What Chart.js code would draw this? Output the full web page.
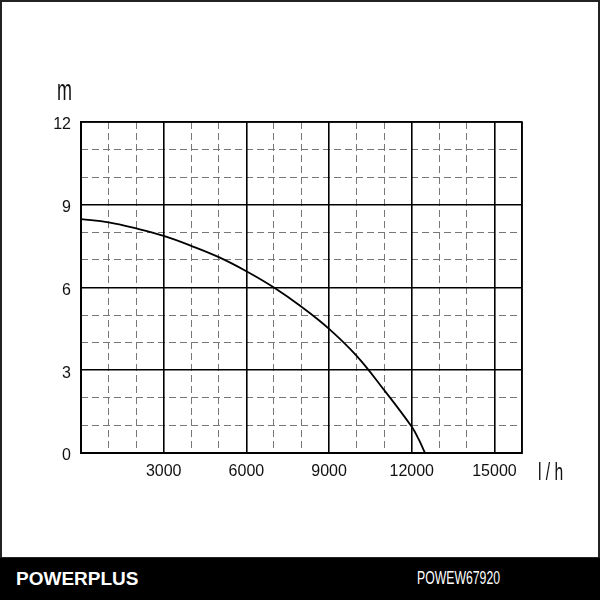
<!DOCTYPE html>
<html>
<head>
<meta charset="utf-8">
<script src="https://cdn.jsdelivr.net/npm/chart.js@4.4.0/dist/chart.umd.min.js"></script>
<style>
  html, body { margin: 0; padding: 0; background: #fff; }
  #wrap { position: relative; width: 600px; height: 600px; overflow: hidden; background: #fff; }
  #frame { position: absolute; left: 0; top: 0; width: 596px; height: 555px; border: 2px solid #222; }
  #c { position: absolute; left: 0; top: 0; }
  .unit { position: absolute; font-family: "Liberation Sans", Arial, sans-serif; color: #111; line-height: 1; transform-origin: left top; white-space: pre; }
  #band { position: absolute; left: 0; top: 558px; width: 600px; height: 42px; background: #000; }
  #brand { position: absolute; left: 16px; top: 568px; font: bold 19px "Liberation Sans", Arial, sans-serif; color: #fff; }
  #model { position: absolute; left: 417px; top: 568px; font: 18px "Liberation Sans", Arial, sans-serif; color: #fff; transform-origin: left center; transform: scaleX(0.68); }
</style>
</head>
<body>
<div id="wrap">
  <div id="frame"></div>
  <canvas id="c" width="600" height="558"></canvas>
  <div class="unit" id="m" style="left:57px;top:75px;font-size:30px;transform:scaleX(0.6);">m</div>
  <div class="unit" id="lh" style="left:538px;top:461px;font-size:23px;transform:scaleX(0.68);">l / h</div>
  <div id="band"></div>
  <div id="brand">POWERPLUS</div>
  <div id="model">POWEW67920</div>
</div>
<script>
// Data
const flow = [0, 1000, 2000, 3000, 4000, 5000, 6000, 7000, 8000, 9000, 10000, 11000, 12000, 12250, 12480];
const head = [8.48, 8.36, 8.14, 7.87, 7.51, 7.1, 6.59, 6.0, 5.3, 4.5, 3.52, 2.28, 0.95, 0.5, 0];
const xMajorTicks = [0, 3000, 6000, 9000, 12000, 15000, 16000];
const xTickLabels = [3000, 6000, 9000, 12000, 15000];
const yMajorTicks = [0, 3, 6, 9, 12];
const yTickLabels = [0, 3, 6, 9, 12];
const xMinorTicks = [1000, 2000, 4000, 5000, 7000, 8000, 10000, 11000, 13000, 14000];
const yMinorTicks = [1, 2, 4, 5, 7, 8, 10, 11];
const xMax = 16000, yMax = 12;

const points = flow.map((f, i) => ({ x: f, y: head[i] }));
const tickFont = { family: "'Liberation Sans', sans-serif", size: 16 };
const setTicks = (arr) => (s) => { s.ticks = arr.map(v => ({ value: v })); };

new Chart(document.getElementById('c'), {
  type: 'scatter',
  data: {
    datasets: [{
      data: points,
      showLine: true,
      borderColor: '#000',
      borderWidth: 1.8,
      pointRadius: 0,
      tension: 0.4,
      fill: false
    }]
  },
  options: {
    responsive: false,
    animation: false,
    devicePixelRatio: 1,
    layout: { padding: { left: 0, right: 78, top: 122, bottom: 0 } },
    plugins: { legend: { display: false }, tooltip: { enabled: false } },
    scales: {
      xMinor: {
        type: 'linear', position: 'top', min: 0, max: xMax,
        afterBuildTicks: setTicks(xMinorTicks),
        ticks: { display: false },
        grid: { color: '#777', lineWidth: 1, drawTicks: false },
        border: { display: false, dash: [7, 4] },
        afterFit: (s) => { s.height = 0; }
      },
      yMinor: {
        type: 'linear', position: 'right', min: 0, max: yMax,
        afterBuildTicks: setTicks(yMinorTicks),
        ticks: { display: false },
        grid: { color: '#777', lineWidth: 1, drawTicks: false },
        border: { display: false, dash: [7, 4] },
        afterFit: (s) => { s.width = 0; }
      },
      x: {
        type: 'linear', position: 'bottom', min: 0, max: xMax,
        afterBuildTicks: setTicks(xMajorTicks),
        ticks: {
          color: '#111', font: tickFont, padding: 9, maxRotation: 0, autoSkip: false,
          callback: (v) => xTickLabels.includes(v) ? String(v) : ''
        },
        grid: { color: '#000', lineWidth: 1.6, drawTicks: false },
        border: { display: true, color: '#000', width: 2 },
        afterFit: (s) => { s.height = 558 - 453; }
      },
      y: {
        type: 'linear', position: 'left', min: 0, max: yMax,
        afterBuildTicks: setTicks(yMajorTicks),
        ticks: {
          color: '#111', font: tickFont, padding: 10, labelOffset: 3, autoSkip: false,
          callback: (v) => yTickLabels.includes(v) ? String(v) : ''
        },
        grid: { color: '#000', lineWidth: 1.6, drawTicks: false },
        border: { display: true, color: '#000', width: 2 },
        afterFit: (s) => { s.width = 81; }
      }
    }
  },
  plugins: [{
    id: 'frameBox',
    afterDraw(chart) {
      const a = chart.chartArea, ctx = chart.ctx;
      ctx.save();
      ctx.strokeStyle = '#000';
      ctx.lineWidth = 1.6;
      ctx.strokeRect(a.left, a.top, a.right - a.left, a.bottom - a.top);
      ctx.restore();
    }
  }]
});
</script>
</body>
</html>
